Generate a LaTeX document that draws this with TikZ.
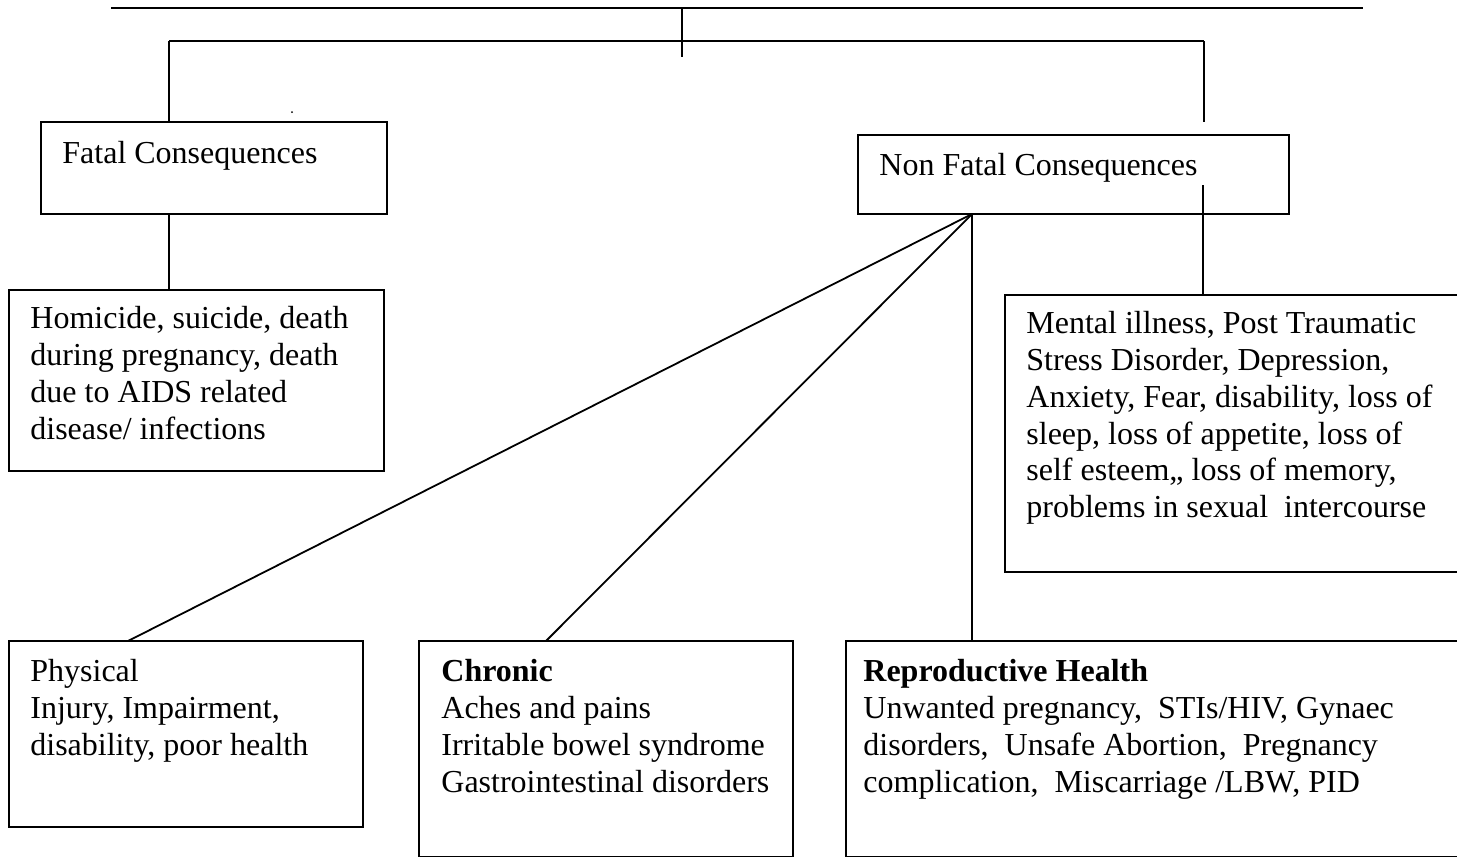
\documentclass[tikz,border=0pt]{standalone}
\usepackage{fontspec}
\setmainfont{Liberation Serif}
\usetikzlibrary{calc}
\tikzset{
  box/.style={draw, line width=0.9pt, rectangle, inner sep=0pt, outer sep=0pt, anchor=north west},
  txt/.style={anchor=north west, inner sep=0pt, align=left, font=\fontsize{16pt}{18.4pt}\selectfont},
  link/.style={line width=0.9pt},
}
\begin{document}
\begin{tikzpicture}[x=0.5pt,y=-0.5pt]
\useasboundingbox (0,0) rectangle (1457,857);
\clip (0,0) rectangle (1457,857);
% boxes
\node[box, minimum width=173pt, minimum height=46pt] (fatal) at (41,122) {};
\node[box, minimum width=215.5pt, minimum height=39.5pt] (nonfatal) at (858,135) {};
\node[box, minimum width=187.5pt, minimum height=90.5pt] (homicide) at (9,290) {};
\node[box, minimum width=247.5pt, minimum height=138.5pt] (mental) at (1005,295) {};
\node[box, minimum width=177pt, minimum height=93pt] (physical) at (9,641) {};
\node[box, minimum width=187pt, minimum height=108pt] (chronic) at (419,641) {};
\node[box, minimum width=327pt, minimum height=108pt] (repro) at (846,641) {};
% texts
\node[txt] (tfatal) at (62,141) {Fatal Consequences};
\node[txt] (tnonfatal) at (879,153) {Non Fatal Consequences};
\node[txt] (thomicide) at (30,306) {Homicide, suicide, death\\during pregnancy, death\\due to AIDS related\\disease/ infections};
\node[txt] (tmental) at (1026,311) {Mental illness, Post Traumatic\\Stress Disorder, Depression,\\Anxiety, Fear, disability, loss of\\sleep, loss of appetite, loss of\\self esteem,, loss of memory,\\problems in sexual~ intercourse};
\node[txt] (tphysical) at (30,659) {Physical\\Injury, Impairment,\\disability, poor health};
\node[txt] (tchronic) at (441,659) {\textbf{Chronic}\\Aches and pains\\Irritable bowel syndrome\\Gastrointestinal disorders};
\node[txt] (trepro) at (863,659) {\textbf{Reproductive Health}\\Unwanted pregnancy,~ STIs/HIV, Gynaec\\disorders,~ Unsafe Abortion,~ Pregnancy\\complication,~ Miscarriage /LBW, PID};
% tree lines
\coordinate (topL) at (111,8);
\coordinate (topR) at (1363,8);
\coordinate (tickT) at (682,8);
\coordinate (tickB) at (682,57);
\coordinate (barL) at (169,41);
\coordinate (barR) at (1204,41);
\coordinate (barREnd) at (1204,122);
\coordinate (mStart) at (1203,185);
\coordinate (hub) at (972,214);
\draw[link] (topL) -- (topR);
\draw[link] (tickT) -- (tickB);
\draw[link] (barL) -- (barR);
\draw[link] (barL) -- (barL |- fatal.north);
\draw[link] (barR) -- (barREnd);
\draw[link] (barL |- fatal.south) -- (barL |- homicide.north);
\draw[link] (mStart) -- (mStart |- mental.north);
\draw[link] (hub) -- ($(physical.north west)+(119,0)$);
\draw[link] (hub) -- ($(chronic.north west)+(127,0)$);
\draw[link] (hub) -- (hub |- repro.north);
% stray dot
\fill (292,112) circle (1);
\end{tikzpicture}
\end{document}
